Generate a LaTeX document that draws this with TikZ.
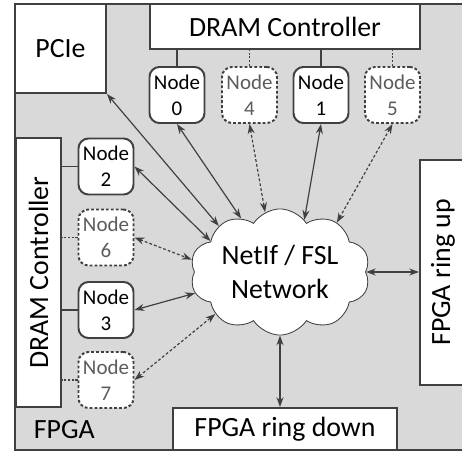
\documentclass[tikz,border=0pt]{standalone}
\usepackage{fontspec}
\setmainfont{Carlito}
\usepackage{tikz}
\usetikzlibrary{shapes.symbols,arrows.meta,calc}
\definecolor{fpgagray}{RGB}{217,217,217}
\definecolor{linegray}{RGB}{64,64,64}
\definecolor{sparegray}{RGB}{92,92,92}

\begin{document}
\begin{tikzpicture}[
                x=0.025cm,y=-0.025cm,
                block/.style={draw=linegray,line width=1.4pt,fill=white,inner sep=0pt,font=\fontsize{19.8}{24}\selectfont},
                pe/.style={draw=linegray,line width=1.4pt,fill=white,rounded corners=0.25cm,minimum width=1.375cm,minimum height=1.4cm,inner sep=0pt,align=center,font=\fontsize{14.9}{18.4}\selectfont},
                pespare/.style={pe,dash pattern=on 2pt off 1.5pt,text=sparegray},
                link/.style={linegray,line width=0.85pt,{Stealth[length=7pt,width=5pt]}-{Stealth[length=7pt,width=5pt]}},
                sparelink/.style={link,dash pattern=on 2pt off 1.5pt},
                tie/.style={linegray,line width=0.85pt},
                sparetie/.style={tie,dash pattern=on 1.5pt off 1.2pt}
            ]
                \useasboundingbox (0,0) rectangle (462,453);
                \clip (0,0) rectangle (462,453);
                
                % FPGA area
                \draw[fill=fpgagray,draw=linegray,line width=1.4pt] (15,4) rectangle (490,450);
                \node[font=\fontsize{19.8}{24}\selectfont,anchor=west] (fpga) at (29,430) {FPGA};
                
                % Outer blocks
                \node[block,minimum width=2.275cm,minimum height=2.225cm] (pcie) at (60.5,48.5) {PCIe};
                \node[block,minimum width=6.75cm,minimum height=1.125cm] (dramtop) at (285,26.5) {DRAM Controller};
                \node[block,minimum width=1.125cm,minimum height=6.725cm] (dramleft) at (38.5,272.5) {\rotatebox{90}{DRAM Controller}};
                \node[block,minimum width=1.15cm,minimum height=5.625cm] (ringup) at (443,272.5) {\rotatebox{90}{FPGA ring up}};
                \node[block,minimum width=5.6cm,minimum height=1.05cm] (ringdown) at (285,429) {FPGA ring down};
                
                % Network
                \node[cloud,cloud puffs=10,cloud puff arc=115,aspect=1.6,draw=linegray,line width=0.6pt,fill=white,
                      minimum width=4.5cm,minimum height=2.8cm,inner sep=0pt,align=center,
                      font=\fontsize{19.8}{24}\selectfont] (net) at (280,272) {NetIf / FSL\\Network};
                
                % Nodes on the top controller
                \node[pe] (node0) at (177,95) {Node\\0};
                \node[pespare] (node4) at (249.5,95) {Node\\4};
                \node[pe] (node1) at (321,95) {Node\\1};
                \node[pespare] (node5) at (392.5,95) {Node\\5};
                
                % Nodes on the left controller
                \node[pe] (node2) at (106,166.5) {Node\\2};
                \node[pespare] (node6) at (106,237.5) {Node\\6};
                \node[pe] (node3) at (106,310) {Node\\3};
                \node[pespare] (node7) at (106,380) {Node\\7};
                
                % Ties to the controllers
                \draw[tie] (node0.north) -- (node0.north |- dramtop.south);
                \draw[sparetie] (node4.north) -- (node4.north |- dramtop.south);
                \draw[tie] (node1.north) -- (node1.north |- dramtop.south);
                \draw[sparetie] (node5.north) -- (node5.north |- dramtop.south);
                \draw[tie] (node2.west) -- (node2.west -| dramleft.east);
                \draw[sparetie] (node6.west) -- (node6.west -| dramleft.east);
                \draw[tie] (node3.west) -- (node3.west -| dramleft.east);
                \draw[sparetie] (node7.west) -- (node7.west -| dramleft.east);
                
                % Links to the network
                \draw[link] (pcie.south east) -- (net.143);
                \draw[link] (node0.south) -- (net.126);
                \draw[sparelink] (node4.south) -- (net.104);
                \draw[link] (node1.south) -- (net.65);
                \draw[sparelink] (node5.south) -- (net.41);
                \draw[link] (node2.east) -- (net.156);
                \draw[sparelink] (node6.east) -- (net.172);
                \draw[link] (node3.east) -- (net.194);
                \draw[sparelink] (node7.east) -- (net.213);
                \draw[link] (net.0) -- (ringup.west |- net.0);
                \draw[link] (net.270) -- (ringdown.north -| net.270);
            \end{tikzpicture}
\end{document}
